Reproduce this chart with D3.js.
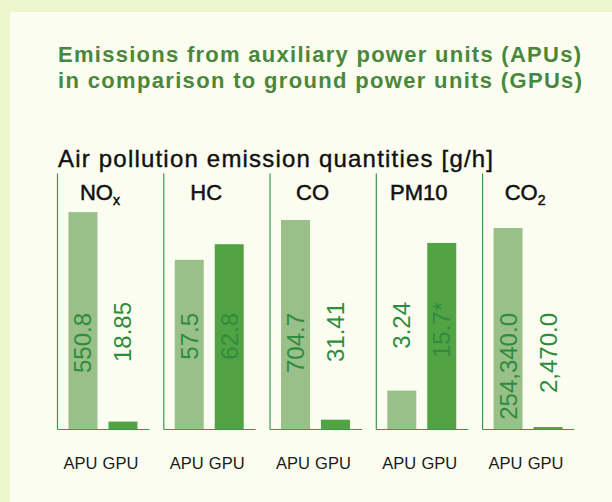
<!DOCTYPE html>
<html>
<head>
<meta charset="utf-8">
<script src="https://cdn.jsdelivr.net/npm/d3@7"></script>
<style>
  body { margin: 0; background: #eef7cc; }
  svg text { font-family: "Liberation Sans", Arial, sans-serif; }
</style>
</head>
<body>
<div id="chart"></div>
<script>
// Chart data
const categories = ["NOx", "HC", "CO", "PM10", "CO2"];
const headerMain = ["NO", "HC", "CO", "PM10", "CO"];
const headerSub = ["x", "", "", "", "2"];
const units = ["APU", "GPU"];
const apuValues = [550.8, 57.5, 704.7, 3.24, 254340.0];
const gpuValues = [18.85, 62.8, 31.41, 15.7, 2470.0];
const apuLabels = ["550.8", "57.5", "704.7", "3.24", "254,340.0"];
const gpuLabels = ["18.85", "62.8", "31.41", "15.7*", "2,470.0"];
// every panel has its own (unlabelled) value scale
const scaleMax = [650, 87, 863, 21.6, 324000];

// labels that sit a bit higher in the original
const raisedLabels = ["NOx-GPU", "CO-GPU", "PM10-APU", "PM10-GPU"];

// Canvas
const svgWidth = 612;
const svgHeight = 502;
const baseY = 429;
const topY = 173;

const svg = d3.select("#chart")
  .append("svg")
  .attr("width", svgWidth)
  .attr("height", svgHeight);

svg.append("rect")
  .attr("width", svgWidth)
  .attr("height", svgHeight)
  .attr("fill", "#eef7cc");

svg.append("rect")
  .attr("x", 10)
  .attr("y", 12)
  .attr("width", svgWidth - 10)
  .attr("height", svgHeight - 12)
  .attr("fill", "#fafdf0");

// Titles
const titleLines = [
  "Emissions from auxiliary power units (APUs)",
  "in comparison to ground power units (GPUs)"
];
svg.selectAll("text.title")
  .data(titleLines)
  .enter()
  .append("text")
  .attr("class", "title")
  .attr("x", 58)
  .attr("y", (d, i) => 62 + i * 26)
  .attr("textLength", (d, i) => i === 0 ? 523 : 524)
  .attr("lengthAdjust", "spacing")
  .attr("font-size", 22)
  .attr("font-weight", "bold")
  .attr("fill", "#4b873b")
  .text(d => d);

svg.append("text")
  .attr("x", 58)
  .attr("y", 167)
  .attr("textLength", 435)
  .attr("lengthAdjust", "spacing")
  .attr("font-size", 24)
  .attr("fill", "#111")
  .attr("stroke", "#111")
  .attr("stroke-width", 0.4)
  .text("Air pollution emission quantities [g/h]");

// Scales
const xPanel = d3.scaleBand()
  .domain(categories)
  .range([57, 574])
  .paddingInner(0.135);

const xUnit = d3.scaleBand()
  .domain(units)
  .range([0, xPanel.bandwidth()])
  .paddingInner(0.275)
  .paddingOuter(0.2875);

const bw = xUnit.bandwidth();

categories.forEach((cat, i) => {
  const g = svg.append("g")
    .attr("transform", `translate(${xPanel(cat)}, 0)`);

  const y = d3.scaleLinear()
    .domain([0, scaleMax[i]])
    .range([baseY, topY]);

  const rows = [
    {unit: "APU", value: apuValues[i], label: apuLabels[i], color: "#98c088"},
    {unit: "GPU", value: gpuValues[i], label: gpuLabels[i], color: "#52a343"}
  ];

  // bars
  g.selectAll("rect.bar")
    .data(rows)
    .enter()
    .append("rect")
    .attr("class", "bar")
    .attr("x", d => xUnit(d.unit))
    .attr("y", d => y(d.value))
    .attr("width", bw)
    .attr("height", d => baseY - y(d.value))
    .attr("fill", d => d.color);

  // vertical axis line
  const yAxis = g.append("g")
    .call(d3.axisLeft(y).tickValues([]).tickSizeOuter(0));
  yAxis.select(".domain").attr("stroke", "#3f9650").attr("stroke-width", 1.2);

  // bottom axis with APU / GPU labels
  const xAxis = g.append("g")
    .attr("transform", `translate(0, ${baseY})`)
    .call(d3.axisBottom(xUnit).tickSize(0).tickSizeOuter(0).tickPadding(28));
  xAxis.select(".domain").attr("stroke", "#3f9650").attr("stroke-width", 1.2);
  xAxis.selectAll("text")
    .attr("font-family", "Liberation Sans, Arial, sans-serif")
    .attr("font-size", 16.5)
    .attr("dx", -2.5)
    .attr("fill", "#1a1a1a");

  // rotated value labels
  g.selectAll("text.value")
    .data(rows)
    .enter()
    .append("text")
    .attr("class", "value")
    .attr("transform", d => {
      const top = raisedLabels.includes(`${cat}-${d.unit}`) ? 302 : 313;
      return `translate(${xUnit(d.unit) + bw / 2 + 8.5}, ${top}) rotate(-90)`;
    })
    .attr("text-anchor", "end")
    .style("font-family", "'Liberation Sans Narrow', 'Arial Narrow', sans-serif")
    .attr("font-size", 24)
    .attr("fill", "#2f8c3f")
    .text(d => d.label);

  // panel header
  const header = g.append("text")
    .attr("x", xPanel.bandwidth() / 2 - 3)
    .attr("y", 200)
    .attr("text-anchor", "middle")
    .attr("font-size", 22)
    .attr("fill", "#111")
    .attr("stroke", "#111")
    .attr("stroke-width", 0.5);
  header.append("tspan").text(headerMain[i]);
  if (headerSub[i]) {
    header.append("tspan")
      .attr("dy", 5)
      .attr("font-size", 14)
      .text(headerSub[i]);
  }
});
</script>
</body>
</html>
